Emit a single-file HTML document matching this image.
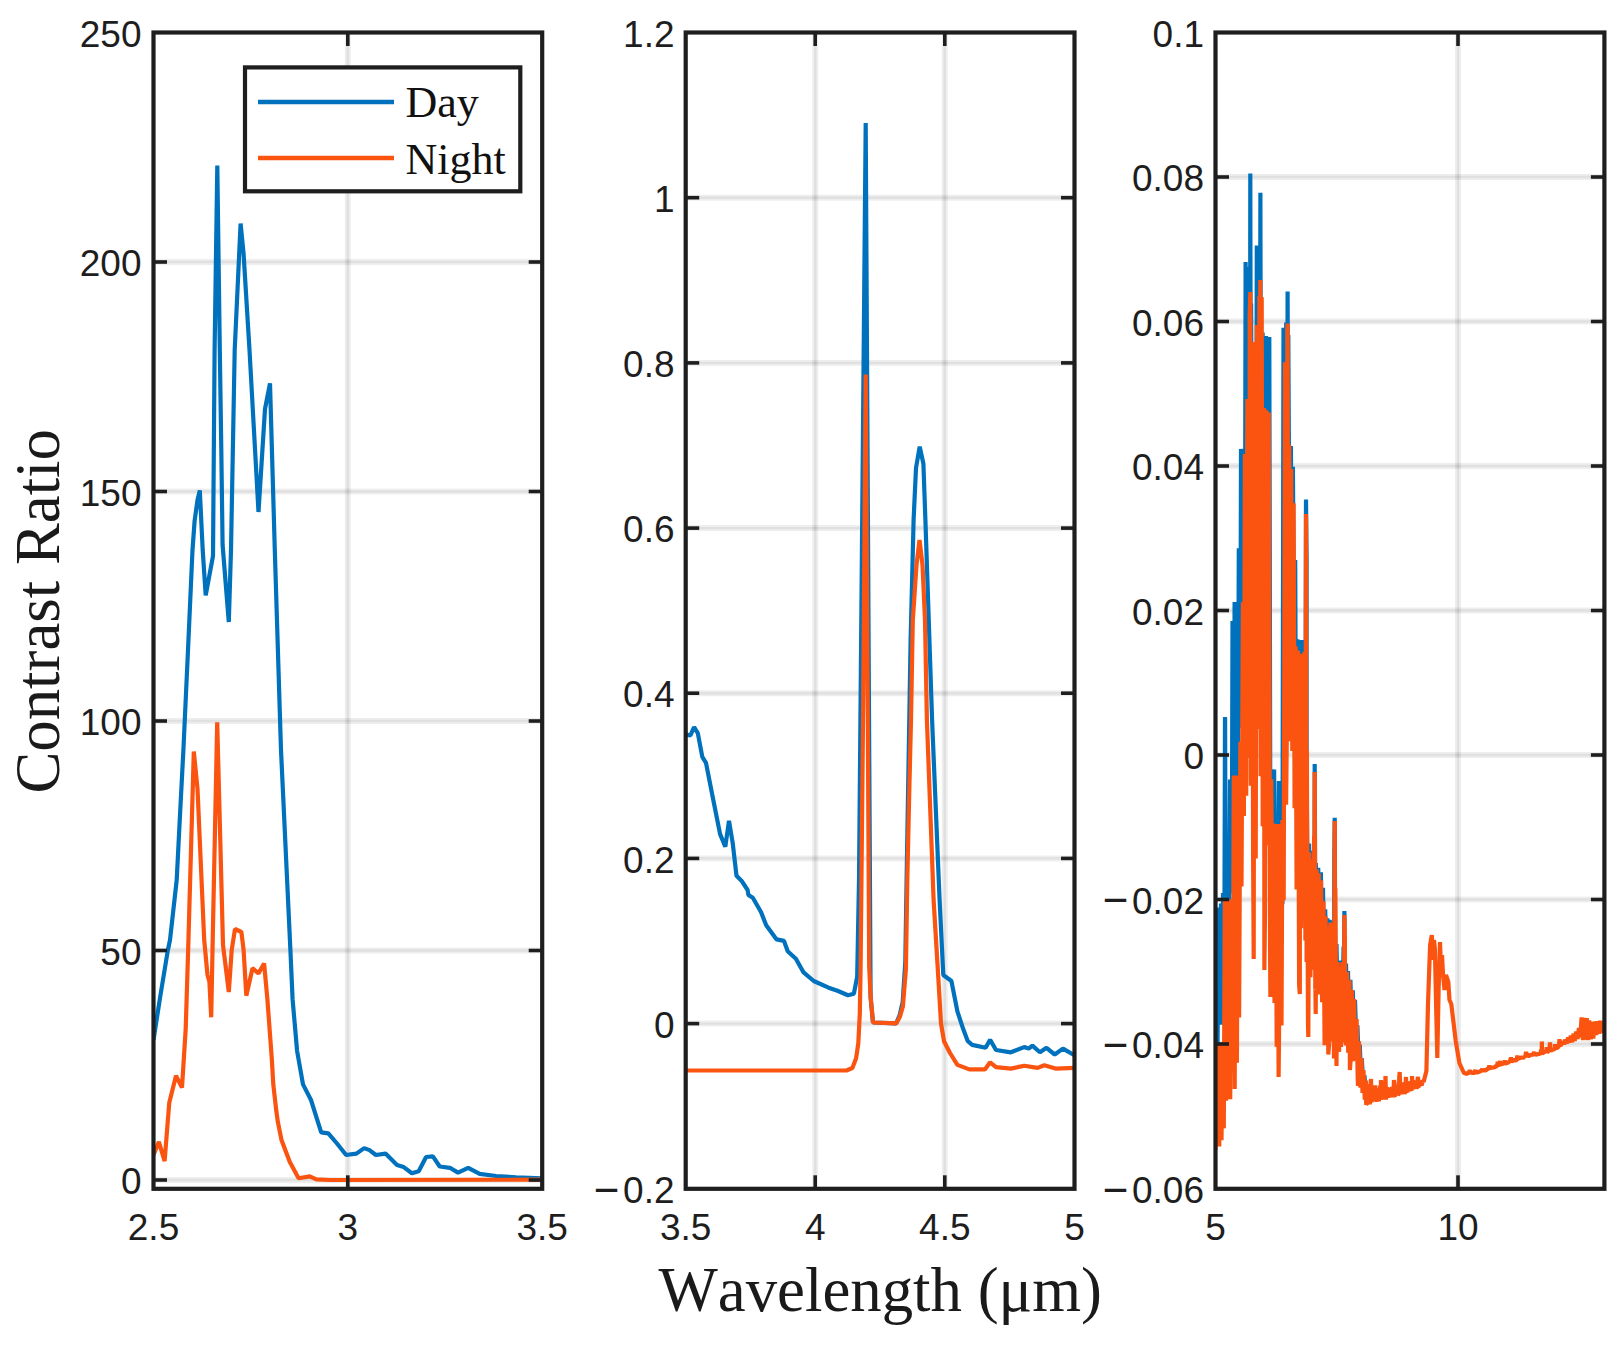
<!DOCTYPE html>
<html lang="en">
<head>
<meta charset="utf-8">
<title>Contrast Ratio vs Wavelength</title>
<style>html,body{margin:0;padding:0;background:#fff}body{width:1622px;height:1346px;overflow:hidden}svg{display:block}</style>
</head>
<body>
<svg width="1622" height="1346" viewBox="0 0 1622 1346">
<rect x="0" y="0" width="1622" height="1346" fill="#ffffff"/>
<defs>
<clipPath id="c0"><rect x="153.5" y="32.5" width="388.70000000000005" height="1156.3"/></clipPath>
<clipPath id="c1"><rect x="685.7" y="32.5" width="388.79999999999995" height="1156.3"/></clipPath>
<clipPath id="c2"><rect x="1215.5" y="32.5" width="388.9000000000001" height="1156.3"/></clipPath>
</defs>
<g stroke="#000000" stroke-opacity="0.065" stroke-width="6"><line x1="347.8" y1="32.5" x2="347.8" y2="1188.8"/><line x1="153.5" y1="262" x2="542.2" y2="262"/><line x1="153.5" y1="491.5" x2="542.2" y2="491.5"/><line x1="153.5" y1="721" x2="542.2" y2="721"/><line x1="153.5" y1="950.5" x2="542.2" y2="950.5"/><line x1="153.5" y1="1180" x2="542.2" y2="1180"/></g>
<g stroke="#000000" stroke-opacity="0.06" stroke-width="2.4"><line x1="347.8" y1="32.5" x2="347.8" y2="1188.8"/><line x1="153.5" y1="262" x2="542.2" y2="262"/><line x1="153.5" y1="491.5" x2="542.2" y2="491.5"/><line x1="153.5" y1="721" x2="542.2" y2="721"/><line x1="153.5" y1="950.5" x2="542.2" y2="950.5"/><line x1="153.5" y1="1180" x2="542.2" y2="1180"/></g>
<g clip-path="url(#c0)">
<polyline points="153.5,1040.0 160.0,998.0 167.8,950.5 170.0,940.0 176.7,880.0 180.0,815.0 183.4,750.0 188.0,650.0 192.5,550.0 194.6,521.0 197.5,500.0 199.8,490.4 202.7,550.0 205.7,595.3 213.0,556.0 214.6,350.0 217.3,165.6 219.8,350.0 221.3,450.0 222.6,545.0 228.8,622.0 231.0,550.0 234.7,350.0 240.6,223.5 243.6,254.0 249.5,350.0 258.5,512.0 265.0,409.0 270.0,383.4 274.8,550.0 281.0,750.0 290.4,950.0 292.6,999.4 297.1,1051.0 303.0,1084.4 311.0,1100.0 321.2,1132.3 328.3,1133.4 337.0,1143.5 346.1,1155.0 356.4,1153.6 364.2,1148.1 369.5,1150.1 375.9,1155.0 385.5,1153.6 397.0,1165.1 403.7,1167.1 411.9,1173.2 418.7,1171.2 426.1,1157.0 432.9,1156.3 439.7,1166.5 449.9,1167.8 458.0,1172.6 468.2,1167.8 479.7,1173.9 496.0,1176.0 516.3,1177.3 542.0,1178.4" fill="none" stroke="#0072BD" stroke-width="4.2" stroke-linejoin="bevel" stroke-linecap="butt"/>
<polyline points="153.5,1155.0 158.9,1141.8 164.6,1161.1 169.3,1102.4 176.0,1075.8 182.0,1087.6 185.7,1029.0 188.3,945.0 193.8,751.5 197.5,788.6 204.2,940.0 207.5,975.0 209.4,981.6 211.2,1017.3 212.6,945.0 217.2,722.4 223.0,945.0 228.8,992.0 231.7,950.0 235.0,929.0 241.4,932.0 243.6,950.0 246.3,995.7 252.5,968.2 258.5,973.4 264.1,963.5 267.4,999.4 271.8,1058.9 273.3,1084.6 276.3,1110.9 277.8,1121.7 281.5,1140.0 289.7,1161.8 298.6,1178.2 309.7,1176.4 316.4,1179.4 330.0,1180.0 542.0,1179.7" fill="none" stroke="#FA5410" stroke-width="4.2" stroke-linejoin="bevel" stroke-linecap="butt"/>
</g>
<g stroke="#1e1e1e" stroke-width="3.6"><line x1="347.8" y1="1188.8" x2="347.8" y2="1175.3"/><line x1="347.8" y1="32.5" x2="347.8" y2="46.0"/><line x1="153.5" y1="262" x2="167.0" y2="262"/><line x1="542.2" y1="262" x2="528.7" y2="262"/><line x1="153.5" y1="491.5" x2="167.0" y2="491.5"/><line x1="542.2" y1="491.5" x2="528.7" y2="491.5"/><line x1="153.5" y1="721" x2="167.0" y2="721"/><line x1="542.2" y1="721" x2="528.7" y2="721"/><line x1="153.5" y1="950.5" x2="167.0" y2="950.5"/><line x1="542.2" y1="950.5" x2="528.7" y2="950.5"/><line x1="153.5" y1="1180" x2="167.0" y2="1180"/><line x1="542.2" y1="1180" x2="528.7" y2="1180"/></g>
<rect x="153.5" y="32.5" width="388.70000000000005" height="1156.3" fill="none" stroke="#1e1e1e" stroke-width="4.2"/>
<g stroke="#000000" stroke-opacity="0.065" stroke-width="6"><line x1="815.2" y1="32.5" x2="815.2" y2="1188.8"/><line x1="944.8" y1="32.5" x2="944.8" y2="1188.8"/><line x1="685.7" y1="197.7" x2="1074.5" y2="197.7"/><line x1="685.7" y1="362.9" x2="1074.5" y2="362.9"/><line x1="685.7" y1="528.1" x2="1074.5" y2="528.1"/><line x1="685.7" y1="693.2" x2="1074.5" y2="693.2"/><line x1="685.7" y1="858.4" x2="1074.5" y2="858.4"/><line x1="685.7" y1="1023.6" x2="1074.5" y2="1023.6"/></g>
<g stroke="#000000" stroke-opacity="0.06" stroke-width="2.4"><line x1="815.2" y1="32.5" x2="815.2" y2="1188.8"/><line x1="944.8" y1="32.5" x2="944.8" y2="1188.8"/><line x1="685.7" y1="197.7" x2="1074.5" y2="197.7"/><line x1="685.7" y1="362.9" x2="1074.5" y2="362.9"/><line x1="685.7" y1="528.1" x2="1074.5" y2="528.1"/><line x1="685.7" y1="693.2" x2="1074.5" y2="693.2"/><line x1="685.7" y1="858.4" x2="1074.5" y2="858.4"/><line x1="685.7" y1="1023.6" x2="1074.5" y2="1023.6"/></g>
<g clip-path="url(#c1)">
<polyline points="685.7,734.6 690.4,735.3 694.1,727.1 697.8,733.1 702.3,756.9 706.0,762.8 712.7,797.0 720.1,834.1 725.3,846.8 729.0,820.8 732.7,843.0 736.5,875.7 741.7,880.9 747.6,890.0 748.4,894.9 752.8,897.8 761.0,912.0 766.2,925.3 776.6,939.4 784.0,940.9 787.7,951.3 795.9,958.8 803.3,972.1 813.7,981.0 828.6,987.7 837.5,990.7 847.9,995.2 853.9,993.7 857.2,976.6 859.0,880.0 865.7,123.1 870.6,997.0 873.0,1022.5 896.2,1023.4 899.7,1015.0 902.7,1002.0 905.3,962.0 906.6,880.0 908.6,760.0 910.6,640.0 913.6,520.0 916.0,468.0 919.7,446.6 923.4,463.7 925.4,520.0 932.1,720.0 939.6,900.0 943.3,975.0 951.4,981.0 957.4,1011.4 963.3,1029.3 967.8,1041.2 972.2,1044.9 985.6,1047.8 990.1,1039.7 996.0,1050.0 1010.9,1052.3 1024.2,1047.1 1028.7,1048.6 1032.4,1045.6 1039.9,1052.3 1046.5,1047.8 1054.7,1054.5 1062.9,1048.6 1074.5,1055.3" fill="none" stroke="#0072BD" stroke-width="4.2" stroke-linejoin="bevel" stroke-linecap="butt"/>
<polyline points="685.7,1070.5 846.4,1070.5 852.4,1068.0 856.1,1058.3 858.3,1043.4 859.8,1013.7 860.6,967.0 863.2,700.0 865.7,374.6 867.7,700.0 869.2,967.0 870.6,997.0 873.0,1022.5 896.2,1023.4 899.9,1016.7 902.9,1006.3 905.9,969.0 907.3,880.0 909.3,790.0 911.0,720.0 912.8,620.0 916.5,565.0 919.5,540.0 922.5,565.0 925.0,620.0 926.9,720.0 933.6,900.0 938.1,974.3 941.0,1023.3 944.0,1041.2 950.0,1053.0 957.4,1064.9 969.3,1069.4 984.9,1069.4 990.1,1062.3 996.0,1067.2 1010.9,1068.6 1024.2,1065.7 1037.6,1067.9 1044.3,1065.2 1055.5,1068.6 1074.5,1067.9" fill="none" stroke="#FA5410" stroke-width="4.2" stroke-linejoin="bevel" stroke-linecap="butt"/>
</g>
<g stroke="#1e1e1e" stroke-width="3.6"><line x1="815.2" y1="1188.8" x2="815.2" y2="1175.3"/><line x1="815.2" y1="32.5" x2="815.2" y2="46.0"/><line x1="944.8" y1="1188.8" x2="944.8" y2="1175.3"/><line x1="944.8" y1="32.5" x2="944.8" y2="46.0"/><line x1="685.7" y1="197.7" x2="699.2" y2="197.7"/><line x1="1074.5" y1="197.7" x2="1061.0" y2="197.7"/><line x1="685.7" y1="362.9" x2="699.2" y2="362.9"/><line x1="1074.5" y1="362.9" x2="1061.0" y2="362.9"/><line x1="685.7" y1="528.1" x2="699.2" y2="528.1"/><line x1="1074.5" y1="528.1" x2="1061.0" y2="528.1"/><line x1="685.7" y1="693.2" x2="699.2" y2="693.2"/><line x1="1074.5" y1="693.2" x2="1061.0" y2="693.2"/><line x1="685.7" y1="858.4" x2="699.2" y2="858.4"/><line x1="1074.5" y1="858.4" x2="1061.0" y2="858.4"/><line x1="685.7" y1="1023.6" x2="699.2" y2="1023.6"/><line x1="1074.5" y1="1023.6" x2="1061.0" y2="1023.6"/></g>
<rect x="685.7" y="32.5" width="388.79999999999995" height="1156.3" fill="none" stroke="#1e1e1e" stroke-width="4.2"/>
<g stroke="#000000" stroke-opacity="0.065" stroke-width="6"><line x1="1458.0" y1="32.5" x2="1458.0" y2="1188.8"/><line x1="1215.5" y1="177" x2="1604.4" y2="177"/><line x1="1215.5" y1="321.5" x2="1604.4" y2="321.5"/><line x1="1215.5" y1="466" x2="1604.4" y2="466"/><line x1="1215.5" y1="610.5" x2="1604.4" y2="610.5"/><line x1="1215.5" y1="755" x2="1604.4" y2="755"/><line x1="1215.5" y1="899.5" x2="1604.4" y2="899.5"/><line x1="1215.5" y1="1044" x2="1604.4" y2="1044"/></g>
<g stroke="#000000" stroke-opacity="0.06" stroke-width="2.4"><line x1="1458.0" y1="32.5" x2="1458.0" y2="1188.8"/><line x1="1215.5" y1="177" x2="1604.4" y2="177"/><line x1="1215.5" y1="321.5" x2="1604.4" y2="321.5"/><line x1="1215.5" y1="466" x2="1604.4" y2="466"/><line x1="1215.5" y1="610.5" x2="1604.4" y2="610.5"/><line x1="1215.5" y1="755" x2="1604.4" y2="755"/><line x1="1215.5" y1="899.5" x2="1604.4" y2="899.5"/><line x1="1215.5" y1="1044" x2="1604.4" y2="1044"/></g>
<g clip-path="url(#c2)">
<polyline points="1215.5,1040.0 1216.2,1003.0 1217.5,1049.2 1218.8,907.4 1219.9,1017.7 1221.0,903.4 1221.9,1024.8 1223.0,892.9 1224.0,1006.6 1224.4,931.8 1225.0,717.0 1225.1,719.5 1225.6,915.7 1226.0,960.5 1227.3,850.4 1228.7,968.8 1230.0,779.6 1231.1,893.5 1231.9,838.9 1232.5,622.8 1232.5,621.0 1233.1,836.3 1233.6,865.1 1234.6,602.1 1235.2,821.5 1235.6,835.8 1235.8,602.0 1236.4,818.3 1236.6,604.8 1237.7,847.9 1238.8,548.2 1239.9,728.0 1240.4,681.9 1241.0,449.0 1241.2,451.4 1241.6,655.0 1242.4,657.1 1243.8,450.6 1245.0,516.8 1245.0,570.5 1245.6,262.0 1246.2,506.3 1246.3,266.9 1247.6,545.9 1248.6,290.1 1249.7,521.8 1250.0,558.9 1250.3,173.4 1250.9,539.9 1251.1,303.5 1252.2,601.6 1253.5,343.5 1254.8,633.8 1255.9,346.2 1256.2,543.0 1256.8,245.5 1256.9,554.5 1257.4,504.8 1257.9,298.7 1259.1,554.2 1259.8,515.1 1260.4,192.7 1260.4,202.7 1261.0,517.9 1261.6,566.1 1262.6,332.5 1263.6,643.8 1264.7,336.8 1265.4,601.6 1265.9,608.0 1266.0,336.0 1266.6,584.4 1267.1,337.2 1268.2,617.9 1269.3,337.0 1270.3,818.7 1271.6,769.4 1272.8,859.8 1274.1,769.6 1275.1,918.3 1276.3,824.3 1277.6,934.9 1278.9,781.1 1279.9,924.7 1281.2,782.4 1282.4,904.3 1283.5,327.8 1284.8,593.0 1286.2,322.5 1287.0,509.3 1287.1,547.4 1287.6,291.6 1288.2,519.2 1288.3,335.1 1289.6,586.3 1290.9,446.1 1292.0,603.9 1292.9,466.7 1294.0,631.0 1295.2,560.0 1296.1,779.0 1297.4,639.3 1298.3,825.5 1299.5,640.4 1300.6,819.5 1301.8,640.0 1302.8,797.8 1304.2,641.9 1305.4,719.0 1305.5,748.0 1306.0,499.4 1306.6,559.5 1306.6,774.6 1307.9,933.9 1309.0,843.6 1310.1,917.9 1311.2,850.7 1312.5,906.1 1313.5,856.1 1314.1,897.3 1314.6,888.6 1314.7,764.0 1315.3,909.2 1315.8,863.1 1317.1,929.3 1318.2,867.9 1319.6,937.0 1320.9,872.2 1321.9,945.2 1323.0,887.8 1324.1,980.5 1325.2,909.4 1326.4,979.0 1327.4,918.4 1328.4,983.7 1329.4,919.7 1330.3,990.7 1331.7,920.5 1332.9,988.1 1334.1,960.7 1334.3,861.8 1334.7,817.7 1335.3,966.6 1335.3,964.3 1336.5,944.0 1337.8,1012.8 1338.8,960.6 1339.8,1015.8 1340.9,960.6 1342.3,1012.2 1343.6,946.6 1343.8,990.0 1344.4,911.0 1344.7,984.7 1345.0,988.1 1346.0,963.6 1346.9,1010.1 1348.0,971.1 1349.0,1021.2 1350.4,979.8 1351.5,1024.1 1352.8,990.2 1353.7,1031.4 1355.0,1000.0 1356.3,1040.8 1357.4,1025.4 1358.7,1062.2 1359.8,1044.8 1360.8,1072.7 1361.8,1058.4 1363.1,1081.6 1364.5,1075.5 1365.5,1090.8" fill="none" stroke="#0072BD" stroke-width="4.2" stroke-linejoin="bevel" stroke-linecap="butt"/>
<polyline points="1215.5,1150.0 1216.2,1106.7 1217.2,1141.1 1218.1,1046.1 1219.2,1146.5 1220.4,1042.7 1221.5,1140.3 1222.5,1042.2 1223.8,1128.4 1224.8,898.3 1226.1,1100.8 1227.2,901.9 1228.2,1084.5 1229.2,900.4 1230.2,1099.2 1231.5,899.6 1232.7,1072.4 1233.8,775.6 1234.7,1089.0 1235.8,776.0 1236.9,1062.8 1238.1,775.4 1239.1,1017.5 1240.4,741.8 1241.5,886.5 1242.9,602.2 1243.9,816.0 1244.9,454.1 1246.2,795.7 1247.3,399.1 1248.5,756.6 1249.7,756.0 1249.7,316.8 1250.3,292.0 1250.8,779.1 1250.9,785.7 1252.0,342.8 1253.1,853.6 1253.7,959.0 1254.5,342.0 1255.7,858.4 1256.9,325.0 1258.3,720.0 1259.4,295.7 1259.7,729.1 1260.3,280.0 1260.6,776.3 1260.9,728.9 1261.7,297.2 1262.7,826.3 1264.0,408.0 1264.4,970.0 1265.0,912.6 1266.3,410.2 1267.4,845.3 1268.8,412.5 1270.1,960.2 1270.4,997.0 1271.2,779.2 1272.5,924.1 1273.5,823.5 1274.5,1002.9 1275.7,824.8 1276.7,1046.7 1277.8,824.1 1278.6,1077.0 1279.0,1039.6 1280.3,824.5 1281.5,1025.6 1282.4,819.9 1283.7,900.2 1285.0,362.2 1286.1,804.8 1287.0,717.8 1287.3,331.0 1287.6,323.5 1288.2,712.8 1288.2,740.2 1289.2,445.0 1290.2,741.3 1291.2,468.9 1292.3,750.9 1293.6,503.3 1294.6,808.3 1295.6,646.3 1296.6,889.4 1298.0,650.6 1299.1,984.5 1299.8,994.0 1300.1,653.7 1301.1,928.2 1302.1,654.0 1303.5,919.6 1304.5,651.8 1305.4,930.6 1305.4,940.5 1306.0,514.0 1306.6,961.9 1306.8,749.4 1308.0,1024.3 1308.3,1037.0 1309.1,852.2 1310.4,977.2 1311.7,859.3 1312.7,947.9 1314.1,836.4 1314.1,969.7 1314.7,772.0 1315.3,989.6 1315.4,987.3 1315.7,1014.0 1316.6,869.6 1317.8,984.8 1318.7,873.3 1319.8,994.5 1321.0,880.3 1322.1,1002.3 1323.5,901.2 1324.6,1045.2 1325.6,916.3 1326.6,1039.9 1328.0,926.3 1328.3,1054.5 1329.1,1043.0 1330.4,922.5 1331.6,1041.5 1332.9,929.5 1334.0,1058.4 1334.1,1045.0 1334.7,821.0 1335.3,1046.7 1335.3,888.3 1336.5,1066.0 1336.6,1048.8 1337.7,962.0 1339.1,1051.9 1340.1,964.4 1341.0,1046.9 1342.3,962.2 1343.6,1039.1 1343.8,1042.4 1344.4,915.0 1344.9,939.1 1345.0,1035.6 1346.0,1045.2 1347.0,972.1 1348.2,1052.8 1349.5,980.2 1349.9,1070.0 1350.8,1057.5 1351.9,990.0 1352.9,1061.1 1354.1,999.0 1355.2,1060.4 1356.6,1019.0 1357.7,1078.7 1358.0,1086.0 1359.0,1041.4 1360.4,1087.7 1361.5,1058.1 1362.5,1092.9 1363.5,1070.2 1364.8,1099.6 1365.9,1080.6 1366.2,1104.6 1367.1,1103.4 1368.2,1084.0 1369.5,1103.8 1370.4,1101.9 1370.7,1081.4 1371.0,1079.0 1371.6,1101.8 1371.7,1101.5 1372.9,1085.6 1374.2,1100.8 1375.3,1085.5 1376.4,1101.8 1377.7,1088.1 1378.8,1101.2 1380.2,1086.0 1380.4,1100.0 1381.0,1080.0 1381.5,1098.8 1381.6,1099.6 1382.6,1087.2 1383.9,1098.8 1384.9,1082.2 1384.9,1098.4 1385.5,1076.0 1386.0,1099.6 1386.1,1098.0 1387.0,1087.2 1388.3,1097.7 1389.6,1088.0 1390.9,1097.1 1391.8,1087.0 1393.2,1097.0 1393.4,1096.0 1394.0,1080.0 1394.6,1083.5 1394.6,1095.6 1395.7,1094.9 1397.0,1084.9 1398.1,1094.8 1399.1,1093.7 1399.2,1077.5 1399.7,1072.0 1400.3,1093.1 1400.3,1093.3 1401.2,1083.0 1402.3,1094.2 1403.4,1082.4 1404.6,1093.4 1405.4,1091.9 1405.9,1077.8 1406.0,1077.0 1406.6,1091.5 1407.3,1092.4 1408.3,1082.3 1409.6,1091.3 1410.6,1081.3 1411.4,1089.9 1411.9,1089.1 1412.0,1076.0 1412.6,1089.4 1413.0,1080.4 1414.3,1089.0 1415.6,1080.8 1416.5,1087.7 1417.4,1087.1 1417.6,1078.6 1418.0,1077.0 1418.6,1086.5 1419.0,1086.5 1420.3,1080.7 1421.6,1085.6 1422.9,1080.2 1423.6,1082.0 1426.4,1071.0 1428.0,1004.0 1430.1,945.0 1431.8,935.0 1433.0,960.0 1434.0,940.0 1434.9,949.0 1436.0,1000.0 1437.3,1058.0 1438.6,990.0 1440.0,942.0 1441.2,975.0 1442.0,955.0 1443.0,974.0 1444.5,990.0 1446.0,975.0 1448.3,982.0 1449.5,1000.0 1451.3,1004.0 1455.7,1041.0 1459.4,1063.0 1463.9,1073.0 1465.0,1073.3 1466.4,1073.9 1467.8,1073.1 1469.2,1072.9 1469.7,1069.7 1470.2,1073.5 1470.6,1073.0 1472.0,1072.7 1473.4,1072.8 1474.8,1072.8 1475.3,1069.7 1475.8,1073.6 1476.2,1072.9 1477.6,1072.2 1479.0,1072.0 1480.4,1071.0 1481.8,1070.9 1482.3,1068.5 1482.8,1071.7 1483.2,1070.3 1484.6,1070.2 1486.0,1070.3 1487.4,1068.7 1488.8,1069.2 1489.3,1065.2 1489.8,1069.0 1490.2,1068.1 1491.6,1067.8 1493.0,1067.5 1494.4,1067.5 1495.8,1066.1 1497.2,1066.3 1497.7,1061.7 1498.2,1066.2 1498.6,1065.1 1499.3,1065.2 1500.0,1060.7 1500.0,1064.3 1500.7,1065.5 1501.4,1063.9 1502.8,1063.4 1504.2,1063.8 1504.7,1060.3 1505.2,1063.5 1505.6,1063.5 1507.0,1063.1 1508.4,1062.4 1509.8,1061.4 1510.3,1061.6 1510.3,1058.5 1510.8,1061.8 1511.0,1057.1 1511.2,1060.7 1511.7,1061.9 1512.6,1060.7 1514.0,1060.0 1515.4,1060.5 1516.8,1060.0 1517.3,1055.6 1517.8,1059.4 1518.2,1058.7 1519.6,1058.3 1521.0,1057.5 1522.4,1057.6 1523.8,1057.4 1525.2,1057.1 1525.3,1057.2 1526.0,1051.7 1526.6,1056.3 1526.7,1057.5 1527.1,1053.0 1527.6,1056.5 1528.0,1055.8 1529.4,1055.8 1530.8,1055.0 1532.2,1054.6 1533.6,1054.6 1534.1,1051.7 1534.6,1055.3 1535.0,1054.9 1536.4,1054.4 1537.8,1054.1 1539.2,1054.0 1540.6,1053.0 1541.1,1049.8 1541.2,1053.1 1541.6,1053.9 1541.9,1041.6 1542.0,1053.1 1542.6,1053.4 1543.4,1052.7 1544.8,1051.5 1546.2,1052.2 1546.7,1047.3 1547.2,1052.2 1547.6,1051.9 1549.0,1050.5 1549.3,1050.9 1550.0,1042.4 1550.4,1050.5 1550.7,1051.2 1551.8,1049.8 1553.2,1049.7 1554.6,1049.0 1555.1,1044.3 1555.6,1049.0 1556.0,1048.3 1557.4,1047.7 1558.8,1046.6 1558.8,1046.4 1559.5,1039.1 1560.2,1046.9 1560.2,1045.2 1561.6,1044.3 1563.0,1041.3 1564.1,1044.4 1565.4,1039.5 1566.8,1043.7 1568.1,1037.4 1569.5,1042.6 1570.8,1035.6 1572.2,1042.2 1573.6,1033.7 1574.7,1040.9 1576.1,1031.6 1577.6,1039.0 1578.9,1027.9 1580.2,1037.2 1581.6,1017.3 1583.0,1040.1 1584.1,1017.8 1585.5,1039.7 1586.8,1018.2 1587.9,1040.2 1589.3,1020.5 1590.7,1039.4 1592.0,1022.0 1593.3,1038.6 1594.8,1021.4 1596.3,1035.1 1597.4,1021.1 1598.9,1033.8 1600.1,1020.6 1601.3,1033.0 1602.4,1021.4 1603.5,1033.3" fill="none" stroke="#FA5410" stroke-width="4.2" stroke-linejoin="bevel" stroke-linecap="butt"/>
</g>
<g stroke="#1e1e1e" stroke-width="3.6"><line x1="1458.0" y1="1188.8" x2="1458.0" y2="1175.3"/><line x1="1458.0" y1="32.5" x2="1458.0" y2="46.0"/><line x1="1215.5" y1="177" x2="1229.0" y2="177"/><line x1="1604.4" y1="177" x2="1590.9" y2="177"/><line x1="1215.5" y1="321.5" x2="1229.0" y2="321.5"/><line x1="1604.4" y1="321.5" x2="1590.9" y2="321.5"/><line x1="1215.5" y1="466" x2="1229.0" y2="466"/><line x1="1604.4" y1="466" x2="1590.9" y2="466"/><line x1="1215.5" y1="610.5" x2="1229.0" y2="610.5"/><line x1="1604.4" y1="610.5" x2="1590.9" y2="610.5"/><line x1="1215.5" y1="755" x2="1229.0" y2="755"/><line x1="1604.4" y1="755" x2="1590.9" y2="755"/><line x1="1215.5" y1="899.5" x2="1229.0" y2="899.5"/><line x1="1604.4" y1="899.5" x2="1590.9" y2="899.5"/><line x1="1215.5" y1="1044" x2="1229.0" y2="1044"/><line x1="1604.4" y1="1044" x2="1590.9" y2="1044"/></g>
<rect x="1215.5" y="32.5" width="388.9000000000001" height="1156.3" fill="none" stroke="#1e1e1e" stroke-width="4.2"/>
<rect x="245" y="67.4" width="275.3" height="123.9" fill="#ffffff" stroke="#1e1e1e" stroke-width="4.2"/>
<line x1="258" y1="102" x2="394" y2="102" stroke="#0072BD" stroke-width="4.4"/>
<line x1="258" y1="158" x2="394" y2="158" stroke="#FA5410" stroke-width="4.4"/>
<g font-family="'Liberation Serif', 'Times New Roman', serif" font-size="44" fill="#111111" style="font-kerning:none"><text x="405.5" y="117">Day</text><text x="405.5" y="173.8">Night</text></g>
<g font-family="'Liberation Sans', Arial, Helvetica, sans-serif" font-size="37" fill="#1e1e1e">
<text x="153.5" y="1239.6" text-anchor="middle">2.5</text>
<text x="347.8" y="1239.6" text-anchor="middle">3</text>
<text x="542.2" y="1239.6" text-anchor="middle">3.5</text>
<text x="141.5" y="46.6" text-anchor="end">250</text>
<text x="141.5" y="276.1" text-anchor="end">200</text>
<text x="141.5" y="505.6" text-anchor="end">150</text>
<text x="141.5" y="735.1" text-anchor="end">100</text>
<text x="141.5" y="964.6" text-anchor="end">50</text>
<text x="141.5" y="1194.1" text-anchor="end">0</text>
<text x="685.7" y="1239.6" text-anchor="middle">3.5</text>
<text x="815.2" y="1239.6" text-anchor="middle">4</text>
<text x="944.8" y="1239.6" text-anchor="middle">4.5</text>
<text x="1074.5" y="1239.6" text-anchor="middle">5</text>
<text x="674.5" y="46.6" text-anchor="end">1.2</text>
<text x="674.5" y="211.8" text-anchor="end">1</text>
<text x="674.5" y="377.0" text-anchor="end">0.8</text>
<text x="674.5" y="542.2" text-anchor="end">0.6</text>
<text x="674.5" y="707.3" text-anchor="end">0.4</text>
<text x="674.5" y="872.5" text-anchor="end">0.2</text>
<text x="674.5" y="1037.7" text-anchor="end">0</text>
<text x="674.5" y="1202.9" text-anchor="end"><tspan font-size="44" dy="1.8">−</tspan><tspan dx="3.5" dy="-1.8">0.2</tspan></text>
<text x="1215.5" y="1239.6" text-anchor="middle">5</text>
<text x="1458.0" y="1239.6" text-anchor="middle">10</text>
<text x="1204" y="46.6" text-anchor="end">0.1</text>
<text x="1204" y="191.1" text-anchor="end">0.08</text>
<text x="1204" y="335.6" text-anchor="end">0.06</text>
<text x="1204" y="480.1" text-anchor="end">0.04</text>
<text x="1204" y="624.6" text-anchor="end">0.02</text>
<text x="1204" y="769.1" text-anchor="end">0</text>
<text x="1204" y="913.6" text-anchor="end"><tspan font-size="44" dy="1.8">−</tspan><tspan dx="3.5" dy="-1.8">0.02</tspan></text>
<text x="1204" y="1058.1" text-anchor="end"><tspan font-size="44" dy="1.8">−</tspan><tspan dx="3.5" dy="-1.8">0.04</tspan></text>
<text x="1204" y="1202.9" text-anchor="end"><tspan font-size="44" dy="1.8">−</tspan><tspan dx="3.5" dy="-1.8">0.06</tspan></text>
</g>
<g font-family="'Liberation Serif', 'Times New Roman', serif" fill="#1a1a1a" style="font-kerning:none">
<text x="880.3" y="1310.8" font-size="62.8" text-anchor="middle">Wavelength (μm)</text>
<text transform="translate(58.7 611.3) rotate(-90)" font-size="62.8" text-anchor="middle">Contrast Ratio</text>
</g>
</svg>
</body>
</html>
